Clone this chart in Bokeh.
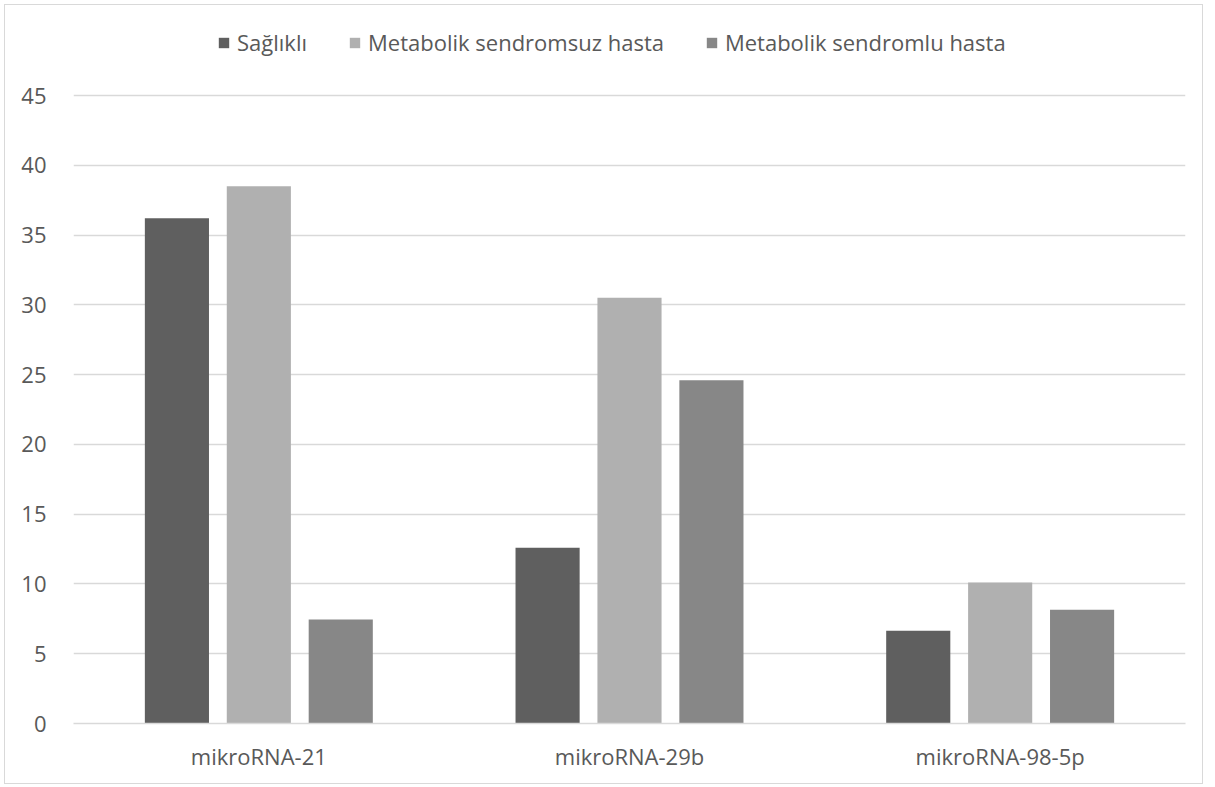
from bokeh.plotting import figure
from bokeh.models import FactorRange, Range1d, Legend, LegendItem, FixedTicker
from bokeh.transform import dodge
from bokeh.embed import file_html
from bokeh.resources import INLINE
from bokeh.models import ColumnDataSource

categories = ["mikroRNA-21", "mikroRNA-29b", "mikroRNA-98-5p"]
series_names = ["Sağlıklı", "Metabolik sendromsuz hasta", "Metabolik sendromlu hasta"]
saglikli = [36.2, 12.6, 6.65]
msuz = [38.5, 30.5, 10.1]
mlu = [7.45, 24.6, 8.15]
y_ticks = [0, 5, 10, 15, 20, 25, 30, 35, 40, 45]

colors = ["#5f5f5f", "#b0b0b0", "#878787"]
offsets = [-0.221, 0.0, 0.221]

source = ColumnDataSource(dict(cat=categories, s0=saglikli, s1=msuz, s2=mlu))

FONT = "Open Sans"
TXT = "#595959"

p = figure(x_range=FactorRange(*categories, range_padding=0), y_range=Range1d(0, 51.45),
           width=1199, height=780, output_backend="svg", toolbar_location=None,
           min_border_left=68, min_border_right=19, min_border_top=0, min_border_bottom=62)
p.styles = {"border": "1px solid #d9d9d9", "margin-left": "4px", "margin-top": "4px"}

renderers = []
for i, col in enumerate(["s0", "s1", "s2"]):
    r = p.vbar(x=dodge("cat", offsets[i], range=p.x_range), top=col, width=0.173,
               source=source, fill_color=colors[i], line_color=None)
    renderers.append(r)

legend = Legend(items=[LegendItem(label=series_names[i], renderers=[renderers[i]]) for i in range(3)],
                orientation="horizontal", location=(144, 666),
                label_text_font=FONT, label_text_font_size="22px", label_text_color=TXT,
                glyph_width=13, glyph_height=13, spacing=41, label_standoff=7,
                border_line_color=None, background_fill_alpha=0, padding=0, margin=0)
p.add_layout(legend, "center")

p.outline_line_color = None
p.xgrid.grid_line_color = None
p.ygrid.grid_line_color = "#d9d9d9"
p.ygrid.grid_line_width = 1.5
p.yaxis.ticker = FixedTicker(ticks=y_ticks)
for ax in (p.xaxis[0], p.yaxis[0]):
    ax.axis_line_color = None
    ax.major_tick_line_color = None
    ax.minor_tick_line_color = None
    ax.major_label_text_font = FONT
    ax.major_label_text_font_size = "22px"
    ax.major_label_text_color = TXT
p.yaxis.major_label_standoff = 21
p.xaxis.major_label_standoff = 11
p.xaxis.axis_line_color = "#d9d9d9"
p.xaxis.axis_line_width = 1.5

open("out.html", "w").write(file_html(p, INLINE))
